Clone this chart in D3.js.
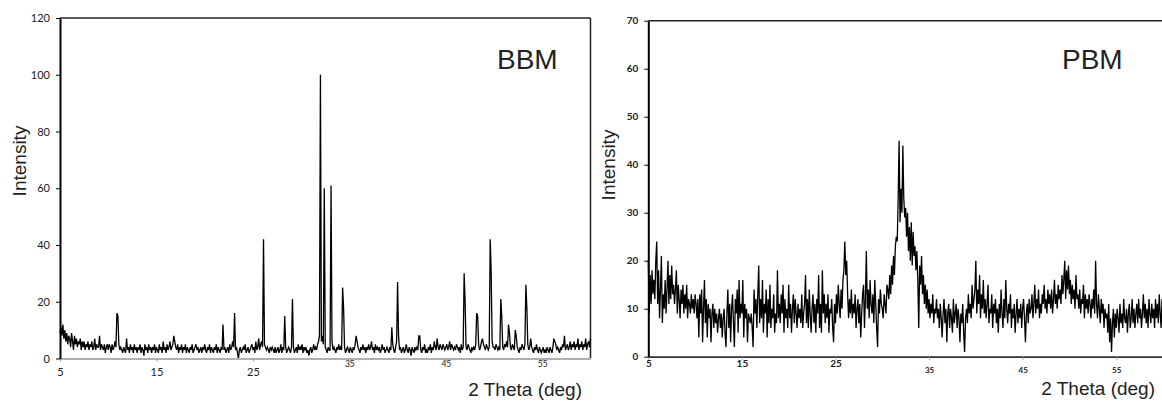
<!DOCTYPE html>
<html><head><meta charset="utf-8">
<script src="https://cdn.jsdelivr.net/npm/d3@7"></script>
<style>body{margin:0;background:#fff} svg{display:block}</style>
</head><body><svg id="c" width="1162" height="402"></svg>
<script>
// measurement grid (2θ from 5° to 60°, step 0.1°)
const twoThetaStart = 5, twoThetaStep = 0.1;

const bbmIntensity = [
 9,11,8,12,7,10,6,9,5,8,
 7,4,9,6,3,8,5,7,4,6,
 5,7,3,6,4,6,3,5,4,6,
 3,5,4,6,3,4,7,3,5,4,
 4,8,3,5,4,3,5,2,4,5,
 3,5,4,2,5,3,4,6,4,16,
 15,5,3,4,3,2,4,3,2,7,
 3,4,2,5,3,4,2,5,3,4,
 2,4,3,5,2,4,3,1,5,3,
 4,2,5,3,4,2,4,3,5,2,
 4,3,2,5,3,4,2,6,3,4,
 2,5,3,4,6,3,4,5,8,6,
 4,3,5,2,4,3,5,2,4,3,
 5,2,4,3,2,4,3,5,2,3,
 4,5,3,4,2,3,4,2,4,3,
 5,3,2,4,3,5,2,4,3,2,
 4,3,5,2,4,3,2,4,3,12,
 3,4,2,3,4,2,5,3,4,6,
 4,16,3,4,2,0,3,4,2,3,
 4,3,5,2,3,4,2,3,4,5,
 3,4,2,6,3,4,7,3,5,6,
 4,42,5,4,3,4,3,2,4,3,
 4,3,2,4,2,3,4,2,3,5,
 2,4,3,15,4,2,3,4,3,2,
 4,21,4,2,3,4,2,5,3,4,
 3,5,2,4,3,4,2,3,1,3,
 4,2,3,5,3,4,3,5,6,8,
 100,6,8,5,60,4,3,2,4,3,
 3,61,6,3,4,3,2,4,3,5,
 3,4,3,25,18,4,2,3,4,3,
 2,4,3,2,4,3,5,8,6,4,
 3,2,4,3,5,3,4,2,4,3,
 5,3,4,6,3,4,2,5,3,4,
 3,4,2,3,5,3,4,2,3,4,
 3,2,4,3,11,5,3,2,4,6,
 27,8,3,4,2,3,4,2,3,5,
 3,2,4,3,1,4,3,2,4,3,
 4,3,8,8,3,2,4,3,5,2,
 3,2,4,3,5,2,4,3,6,4,
 3,7,4,3,5,4,3,5,4,3,
 4,5,3,4,6,3,5,4,3,4,
 3,5,4,3,4,2,5,3,4,30,
 20,4,3,5,4,3,2,4,3,4,
 3,5,16,15,5,3,4,6,7,5,
 4,3,5,4,3,4,42,31,6,4,
 4,3,5,4,3,4,3,21,15,4,
 3,5,4,6,4,12,9,4,3,5,
 4,3,10,8,4,3,2,4,3,5,
 4,3,5,26,18,5,3,4,7,4,
 3,2,4,3,5,3,2,4,3,2,
 3,4,2,3,2,4,3,2,4,3,
 2,4,7,6,5,3,4,3,2,4,
 3,5,4,8,3,4,5,3,4,6,
 3,5,4,6,3,5,4,7,3,5,
 4,6,3,5,4,7,3,5,6,4,
 7
];

const pbmIntensity = [
 20,9,17,11,18,13,16,12,20,24,
 11,18,8,14,21,7,13,10,16,9,
 14,20,11,17,12,19,13,15,11,14,
 18,9,15,12,8,14,11,15,9,13,
 10,15,8,12,11,9,13,10,12,9,
 13,11,8,12,4,13,9,14,3,10,
 16,7,12,4,11,8,10,3,9,11,
 6,10,7,9,5,8,10,6,9,4,
 8,10,5,2,9,14,6,11,3,10,
 13,7,2,12,9,14,5,16,8,11,
 9,16,4,11,8,10,3,9,8,7,
 9,6,2,14,9,12,6,13,19,7,
 12,8,16,5,11,9,14,4,12,7,
 15,6,10,8,13,5,9,7,18,8,
 11,7,13,9,15,5,12,8,10,6,
 15,8,11,5,10,13,7,12,9,6,
 11,8,10,7,13,6,9,11,17,7,
 12,6,14,9,5,10,13,7,11,5,
 12,9,17,6,11,5,18,9,13,7,
 11,8,13,5,10,9,12,6,3,11,
 7,13,9,15,11,8,14,10,16,18,
 24,17,20,13,8,12,9,14,8,11,
 9,13,6,10,12,7,11,4,9,13,
 15,6,12,22,10,14,8,16,11,9,
 13,7,16,11,6,2,12,9,14,11,
 10,8,13,11,9,15,14,12,17,13,
 19,15,21,17,23,25,24,33,45,28,
 35,30,44,33,29,31,25,30,22,27,
 20,28,19,26,21,23,18,22,16,6,
 19,15,21,13,17,11,15,10,14,9,
 12,8,11,9,13,7,10,9,12,8,
 10,6,11,8,4,9,12,7,10,3,
 9,11,6,10,8,5,12,7,9,11,
 6,10,8,3,9,7,11,5,1,8,
 10,7,13,9,11,8,15,10,12,14,
 20,9,14,11,17,8,13,10,16,9,
 12,8,11,15,7,10,9,13,6,11,
 9,12,7,10,5,11,8,14,9,6,
 12,8,16,10,7,11,9,13,6,10,
 8,11,5,9,12,7,10,8,11,6,
 10,12,8,3,9,11,7,12,9,10,
 13,8,11,15,9,12,10,14,8,11,
 9,13,11,15,10,12,9,14,11,13,
 10,14,9,12,16,11,13,10,15,12,
 14,11,17,13,16,20,12,18,14,19,
 13,16,11,15,12,14,10,17,12,13,
 10,14,9,12,11,15,8,13,10,12,
 9,13,11,8,12,10,14,9,20,11,
 8,13,10,7,12,9,11,6,10,8,
 9,5,11,3,8,1,7,10,4,9,
 6,10,8,5,11,7,9,6,12,8,
 7,10,5,9,11,6,8,12,7,10,
 6,9,11,7,12,8,10,6,9,13,
 8,11,7,10,6,12,9,7,11,8,
 10,6,12,8,11,7,13,9,6,12,
 8
];

const xTicks = [5, 15, 25, 35, 45, 55];
const bbmYTicks = [0, 20, 40, 60, 80, 100, 120];
const pbmYTicks = [0, 10, 20, 30, 40, 50, 60, 70];
const panelNames = ["BBM", "PBM"];
const xTitle = "2 Theta (deg)";
const yTitle = "Intensity";

const svg = d3.select("#c");

const panels = [
  {name: panelNames[0], data: bbmIntensity, yTicks: bbmYTicks, yMax: 120,
   left: 60, right: 590.5, top: 18, bottom: 358.5, bold: false,
   boxRight: true, bottomColor: "#b0b0b0",
   yTitleX: 26, yTitleY: 161, nameX: 497, xTitleX: 582, xTitleY: 396,
   smallY: 364, bigY: 372},
  {name: panelNames[1], data: pbmIntensity, yTicks: pbmYTicks, yMax: 70,
   left: 648.3, right: 1163, top: 20.7, bottom: 356.7, bold: true,
   boxRight: false, bottomColor: "#333",
   yTitleX: 615, yTitleY: 165, nameX: 1062, xTitleX: 1155, xTitleY: 395,
   smallY: 370, bigY: 363}
];

panels.forEach(p => {
  const x = d3.scaleLinear().domain([5, 60]).range([p.left, p.right]);
  const y = d3.scaleLinear().domain([0, p.yMax]).range([p.bottom, p.top]);
  const g = svg.append("g");
  const pts = p.data.map((v, i) => [twoThetaStart + i * twoThetaStep, v]);

  // box top/right
  g.append("line").attr("x1", p.left).attr("x2", p.right)
    .attr("y1", p.top).attr("y2", p.top).attr("stroke", "#222").attr("stroke-width", 1.5);
  if (p.boxRight) g.append("line").attr("x1", p.right).attr("x2", p.right)
    .attr("y1", p.top).attr("y2", p.bottom).attr("stroke", "#222").attr("stroke-width", 1.5);

  // data line
  g.append("path").datum(pts)
    .attr("fill", "none").attr("stroke", "#000").attr("stroke-width", 1.3)
    .attr("stroke-linejoin", "miter")
    .attr("d", d3.line().x(d => x(d[0])).y(d => y(d[1])));

  // x axis
  const xa = g.append("g").attr("transform", `translate(0,${p.bottom})`)
    .call(d3.axisBottom(x).tickValues(xTicks).tickSize(3).tickSizeOuter(0).tickFormat(d3.format("d")));
  xa.select(".domain").attr("stroke", p.bottomColor).attr("stroke-width", 1.8);
  xa.selectAll(".tick line").attr("stroke", "#999");
  xa.selectAll(".tick text")
    .attr("y", d => (d >= 35 ? p.smallY : p.bigY) - p.bottom)
    .attr("dy", "0.35em")
    .attr("font-family", "Lato, 'Open Sans', sans-serif")
    .attr("font-weight", p.bold ? "bold" : "normal")
    .attr("font-size", d => d >= 35 ? (p.bold ? 8 : 8.5) : (p.bold ? 10 : 11))
    .attr("fill", "#222");

  // y axis
  const ya = g.append("g").attr("transform", `translate(${p.left},0)`)
    .call(d3.axisLeft(y).tickValues(p.yTicks).tickSize(4).tickSizeOuter(0).tickPadding(6).tickFormat(d3.format("d")));
  ya.select(".domain").attr("stroke", "#000").attr("stroke-width", 2);
  ya.selectAll(".tick line").attr("stroke", "#000");
  ya.selectAll(".tick text")
    .attr("font-family", "Lato, 'Open Sans', sans-serif")
    .attr("font-weight", p.bold ? "bold" : "normal")
    .attr("font-size", p.bold ? 10 : 11)
    .attr("fill", "#222");

  // titles
  g.append("text").attr("transform", `translate(${p.yTitleX},${p.yTitleY}) rotate(-90)`)
    .attr("text-anchor", "middle").attr("font-family", "'Liberation Sans', Arial, sans-serif")
    .attr("font-size", 19).attr("fill", "#222").text(yTitle);
  g.append("text").attr("x", p.xTitleX).attr("y", p.xTitleY).attr("text-anchor", "end")
    .attr("font-family", "'Liberation Sans', Arial, sans-serif")
    .attr("font-size", 19).attr("fill", "#222").text(xTitle);
  g.append("text").attr("x", p.nameX).attr("y", 69)
    .attr("font-family", "'Liberation Sans', Arial, sans-serif")
    .attr("font-size", 28).attr("fill", "#222").text(p.name);
});
</script>
</body></html>
